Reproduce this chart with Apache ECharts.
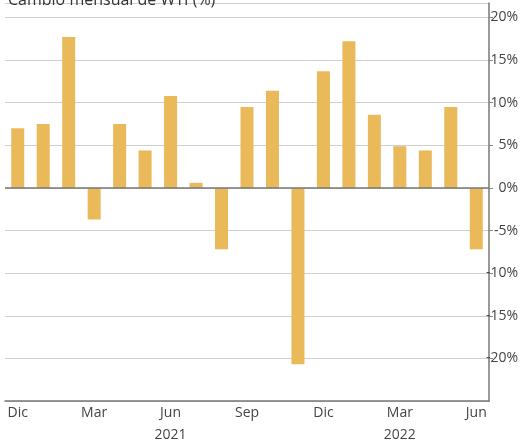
<!DOCTYPE html>
<html><head><meta charset="utf-8">
<script src="https://cdn.jsdelivr.net/npm/echarts@6/dist/echarts.min.js"></script>
<style>html,body{margin:0;padding:0;background:#fff}#c{width:522px;height:443px}</style>
</head><body><div id="c"></div>
<script>
var categories = ['Dic 2020','Ene 2021','Feb 2021','Mar 2021','Abr 2021','May 2021','Jun 2021','Jul 2021','Ago 2021','Sep 2021','Oct 2021','Nov 2021','Dic 2021','Ene 2022','Feb 2022','Mar 2022','Abr 2022','May 2022','Jun 2022'];
var tickLabels = ['Dic','','','Mar','','','Jun\n2021','','','Sep','','','Dic','','','Mar\n2022','','','Jun'];
var wtiChange = [7.0, 7.5, 17.7, -3.7, 7.5, 4.4, 10.8, 0.6, -7.2, 9.5, 11.4, -20.7, 13.7, 17.2, 8.6, 4.9, 4.4, 9.5, -7.2];
var titleText = 'Cambio mensual de WTI (%)';

var chart = echarts.init(document.getElementById('c'));
var fontFam = '"Open Sans", "Noto Sans", sans-serif';
chart.setOption({
  animation: false,
  title: {
    text: titleText, left: 3, top: -13,
    textStyle: {fontFamily: fontFam, fontSize: 16, fontWeight: 'normal', color: '#333'}
  },
  grid: {left: 5, right: 33, top: 3, bottom: 42, containLabel: false, outerBoundsMode: 'none'},
  xAxis: {
    type: 'category', data: categories, position: 'bottom',
    axisLine: {onZero: false, lineStyle: {color: '#777', width: 1.5}},
    axisTick: {show: false},
    axisLabel: {
      interval: 0, margin: 1, lineHeight: 22, verticalAlign: 'top',
      fontFamily: fontFam, fontSize: 14, color: '#444',
      formatter: function (v, i) { return tickLabels[i]; }
    }
  },
  yAxis: {
    type: 'value', position: 'right', min: -25, max: 21.7, interval: 5,
    axisLine: {show: true, lineStyle: {color: '#777', width: 1.5}},
    axisTick: {show: true, inside: false, length: 4, lineStyle: {color: '#888'}},
    splitLine: {show: true, lineStyle: {color: '#cfcfcf', width: 1}},
    axisLabel: {
      showMinLabel: false, showMaxLabel: false,
      align: 'right', margin: 29,
      fontFamily: fontFam, fontSize: 14, color: '#444',
      formatter: function (v) { return (v % 5 === 0 && v > -25) ? v + '%' : ''; }
    }
  },
  series: [{
    type: 'bar', data: wtiChange, barWidth: 13,
    itemStyle: {color: '#E9B95A'},
    markLine: {
      silent: true, symbol: 'none', label: {show: false},
      lineStyle: {color: '#777', type: 'solid', width: 1.5},
      data: [{yAxis: 0}]
    }
  }]
});
</script></body></html>
